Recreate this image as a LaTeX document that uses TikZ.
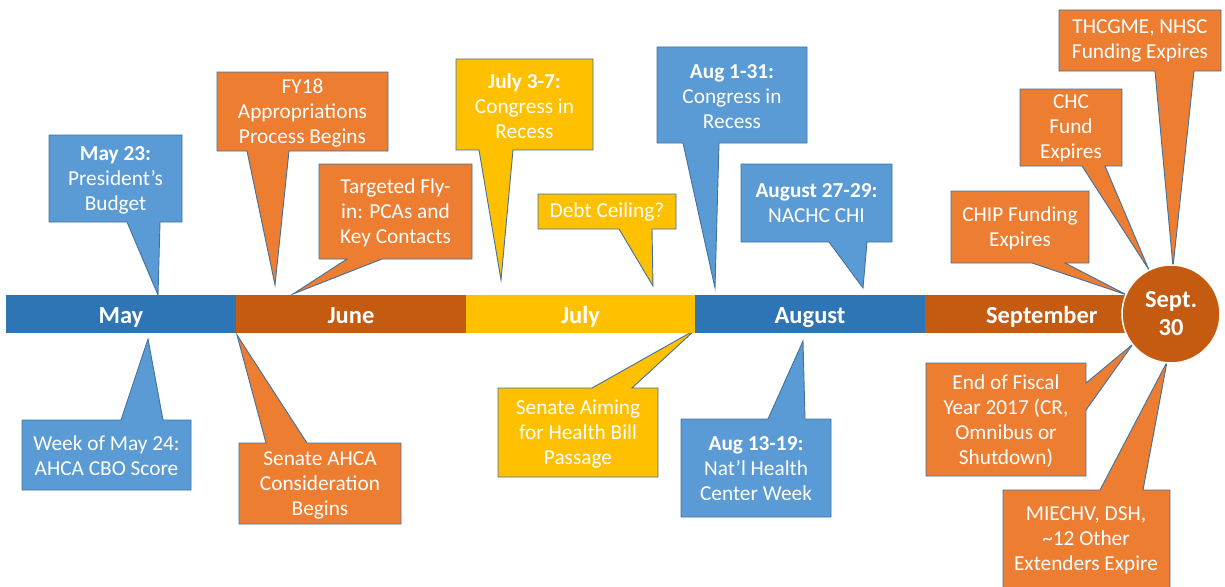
\documentclass[tikz,border=0pt]{standalone}
\usepackage{fontspec}
\setmainfont{Carlito}
\definecolor{barblue}{HTML}{2E75B6}
\definecolor{barorange}{HTML}{C55A11}
\definecolor{baryellow}{HTML}{FFC000}
\definecolor{cblue}{HTML}{5B9BD5}
\definecolor{corange}{HTML}{ED7D31}
\definecolor{cyellow}{HTML}{FFC000}
\definecolor{edge}{HTML}{41719C}
\begin{document}
\begin{tikzpicture}[x=1pt,y=-1pt,
  cb/.style={draw=edge, line width=0.9pt, line join=miter},
  txt/.style={text=white, align=center, inner sep=0pt, font=\fontsize{21.3}{25}\selectfont},
  month/.style={rectangle, minimum width=230pt, minimum height=38pt, inner sep=0pt, text height=20pt, text depth=2pt, text=white, font=\fontsize{24.5}{28}\selectfont\bfseries}]
\useasboundingbox (0,0) rectangle (1225,586);
\clip (0,0) rectangle (1225,586);

% pointer tips
\coordinate (p1) at (158,295);
\coordinate (p2) at (275,285);
\coordinate (p3) at (293,294);
\coordinate (p4) at (501,280);
\coordinate (p5) at (653,286);
\coordinate (p6) at (715,288);
\coordinate (p7) at (863,288);
\coordinate (p8) at (1173,267);
\coordinate (p9) at (1149,270);
\coordinate (p10) at (1127,295);
\coordinate (p11) at (1133,344);
\coordinate (p12) at (1167,362);
\coordinate (p13) at (148,339);
\coordinate (p14) at (237,335);
\coordinate (p15) at (695,330);
\coordinate (p16) at (803,341);

% callouts above the bar (pointer down)
\draw[cb, fill=cblue] (49,135) -- (182,135) -- (182,222) -- (160,222) -- (p1) -- (127,222) -- (49,222) -- cycle;
\draw[cb, fill=corange] (217,72) -- (388,72) -- (388,151) -- (289,151) -- (p2) -- (247,151) -- (217,151) -- cycle;
\draw[cb, fill=corange] (319,164) -- (472,164) -- (472,259) -- (382,259) -- (p3) -- (347,259) -- (319,259) -- cycle;
\draw[cb, fill=cyellow] (456,59) -- (593,59) -- (593,150) -- (513,150) -- (p4) -- (479,150) -- (456,150) -- cycle;
\draw[cb, fill=cyellow] (538,194) -- (676,194) -- (676,229) -- (652,229) -- (p5) -- (619,229) -- (538,229) -- cycle;
\draw[cb, fill=cblue] (657,47) -- (807,47) -- (807,143) -- (719,143) -- (p6) -- (683,143) -- (657,143) -- cycle;
\draw[cb, fill=cblue] (741,164) -- (892,164) -- (892,242) -- (867,242) -- (p7) -- (829,242) -- (741,242) -- cycle;
\draw[cb, fill=corange] (1059,10) -- (1221,10) -- (1221,71) -- (1194,71) -- (p8) -- (1155,71) -- (1059,71) -- cycle;
\draw[cb, fill=corange] (1020,89) -- (1122,89) -- (1122,166) -- (1105,166) -- (p9) -- (1082,166) -- (1020,166) -- cycle;
\draw[cb, fill=corange] (951,191) -- (1089,191) -- (1089,263) -- (1065,263) -- (p10) -- (1032,263) -- (951,263) -- cycle;

% callouts below the bar
\draw[cb, fill=corange] (926,363) -- (1086,363) -- (1086,383) -- (p11) -- (1086,410) -- (1086,476) -- (926,476) -- cycle;
\draw[cb, fill=corange] (1003,490) -- (1100,490) -- (p12) -- (1143,490) -- (1170,490) -- (1170,600) -- (1003,600) -- cycle;
\draw[cb, fill=cblue] (22,420) -- (121,420) -- (p13) -- (163,420) -- (191,420) -- (191,490) -- (22,490) -- cycle;
\draw[cb, fill=corange] (239,443) -- (266,443) -- (p14) -- (307,443) -- (401,443) -- (401,524) -- (239,524) -- cycle;
\draw[cb, fill=cyellow] (498,388) -- (592,388) -- (p15) -- (632,388) -- (658,388) -- (658,477) -- (498,477) -- cycle;
\draw[cb, fill=cblue] (681,419) -- (768,419) -- (p16) -- (805,419) -- (831,419) -- (831,517) -- (681,517) -- cycle;

% texts
\node[txt] (t1) at (115.5,180) {\textbf{May 23:}\\President’s\\Budget};
\node[txt] (t2) at (302.5,113) {FY18\\Appropriations\\Process Begins};
\node[txt] (t3) at (395.5,213) {Targeted Fly-\\in: PCAs and\\Key Contacts};
\node[txt] (t4) at (524.5,106) {\textbf{July 3-7:}\\Congress in\\Recess};
\node[txt] (t5) at (607,212) {Debt Ceiling?};
\node[txt] (t6) at (732,97) {\textbf{Aug 1-31:}\\Congress in\\Recess};
\node[txt] (t7) at (816.5,203) {\textbf{August 27-29:}\\NACHC CHI};
\node[txt] (t8) at (1140,41) {THCGME, NHSC\\Funding Expires};
\node[txt] (t9) at (1071,128) {CHC\\Fund\\Expires};
\node[txt] (t10) at (1020,228) {CHIP Funding\\Expires};
\node[txt] (t11) at (1006,421) {End of Fiscal\\Year 2017 (CR,\\Omnibus or\\Shutdown)};
\node[txt] (t12) at (1086,540) {MIECHV, DSH,\\\textasciitilde12 Other\\Extenders Expire};
\node[txt] (t13) at (106.5,456) {Week of May 24:\\AHCA CBO Score};
\node[txt] (t14) at (320,485) {Senate AHCA\\Consideration\\Begins};
\node[txt] (t15) at (578,434) {Senate Aiming\\for Health Bill\\Passage};
\node[txt] (t16) at (756,469) {\textbf{Aug 13-19:}\\Nat’l Health\\Center Week};

% timeline bar
\node[month, fill=barblue] (may) at (121,314) {May};
\node[month, fill=barorange] (june) at (351,314) {June};
\node[month, fill=baryellow] (july) at (580.5,314) {July};
\node[month, fill=barblue] (aug) at (810,314) {August};
\node[month, fill=barorange, text width=230pt, align=left] (sep) at (1040,314) {\hspace*{61pt}September};

% Sept. 30 circle
\node[circle, fill=barorange, draw=white, line width=1.5pt, minimum size=98pt, inner sep=0pt,
      text=white, align=center, font=\fontsize{24.5}{28}\selectfont\bfseries] (s30) at (1171,314) {Sept.\\30};
\end{tikzpicture}
\end{document}
